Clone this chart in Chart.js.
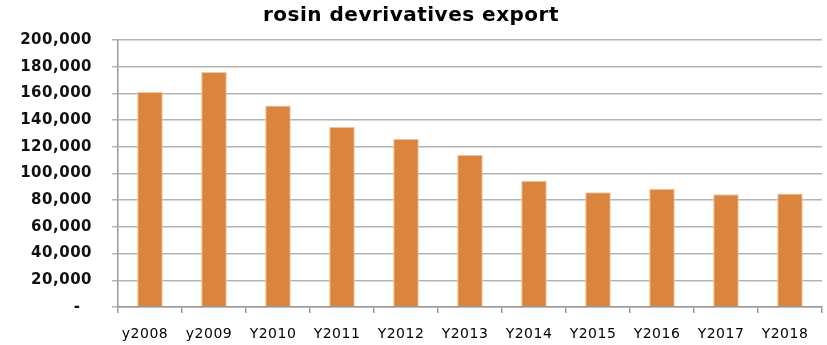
<!DOCTYPE html>
<html>
<head>
<meta charset="utf-8">
<script src="https://cdn.jsdelivr.net/npm/chart.js@4/dist/chart.umd.min.js"></script>
<style>
  html, body { margin: 0; padding: 0; background: #fff; }
  #wrap { width: 827px; height: 345px; }
</style>
</head>
<body>
<div id="wrap"><canvas id="c"></canvas></div>
<script>
// Rosin derivatives export, yearly totals
const categories = ['y2008', 'y2009', 'Y2010', 'Y2011', 'Y2012', 'Y2013', 'Y2014', 'Y2015', 'Y2016', 'Y2017', 'Y2018'];
const exportValues = [161000, 176000, 151000, 135000, 126000, 114000, 94500, 86000, 88500, 84500, 85000];
const axisMax = 200000;
const axisStep = 20000;
const zeroTickLabel = '-  ';

const FONT = "'DejaVu Sans', Verdana, sans-serif";

// Slightly widened lettering for all chart text
const spacingPlugin = {
  id: 'letterSpacing',
  beforeLayout(chart) { chart.ctx.letterSpacing = '0.5px'; },
  beforeDraw(chart) { chart.ctx.letterSpacing = '0.5px'; }
};

new Chart(document.getElementById('c'), {
  type: 'bar',
  data: {
    labels: categories,
    datasets: [{
      data: exportValues,
      backgroundColor: '#DB843E',
      borderColor: '#F3C9A3',
      borderWidth: 1,
      categoryPercentage: 0.8,
      barPercentage: 0.5
    }]
  },
  plugins: [spacingPlugin],
  options: {
    responsive: true,
    maintainAspectRatio: false,
    animation: false,
    layout: { padding: { left: 0, right: 5, top: 0, bottom: 0 } },
    plugins: {
      legend: { display: false },
      tooltip: { enabled: false },
      title: {
        display: true,
        text: 'rosin devrivatives export',
        color: '#000',
        font: { family: FONT, size: 20, weight: 'bold' },
        padding: { top: 4, bottom: 12 }
      }
    },
    scales: {
      x: {
        grid: {
          display: true,
          offset: true,
          drawOnChartArea: false,
          drawTicks: true,
          tickLength: 6,
          color: '#9a9a9a',
          lineWidth: 1.5
        },
        border: { display: true, color: '#9a9a9a', width: 1.5 },
        ticks: {
          color: '#000',
          font: { family: FONT, size: 14 },
          padding: 13,
          labelOffset: -5,
          maxRotation: 0,
          autoSkip: false
        },
        afterFit(scale) { scale.height = 38; }
      },
      y: {
        min: 0,
        max: axisMax,
        grid: {
          color: '#b4b4b4',
          lineWidth: 1.5,
          drawTicks: true,
          tickLength: 6
        },
        border: { display: true, color: '#9a9a9a', width: 1.5 },
        ticks: {
          stepSize: axisStep,
          color: '#111',
          font: { family: FONT, size: 15, weight: 'bold' },
          padding: 20,
          callback: (v) => v === 0 ? zeroTickLabel : v.toLocaleString('en-US')
        },
        afterFit(scale) { scale.width = 118; }
      }
    }
  }
});
</script>
</body>
</html>
